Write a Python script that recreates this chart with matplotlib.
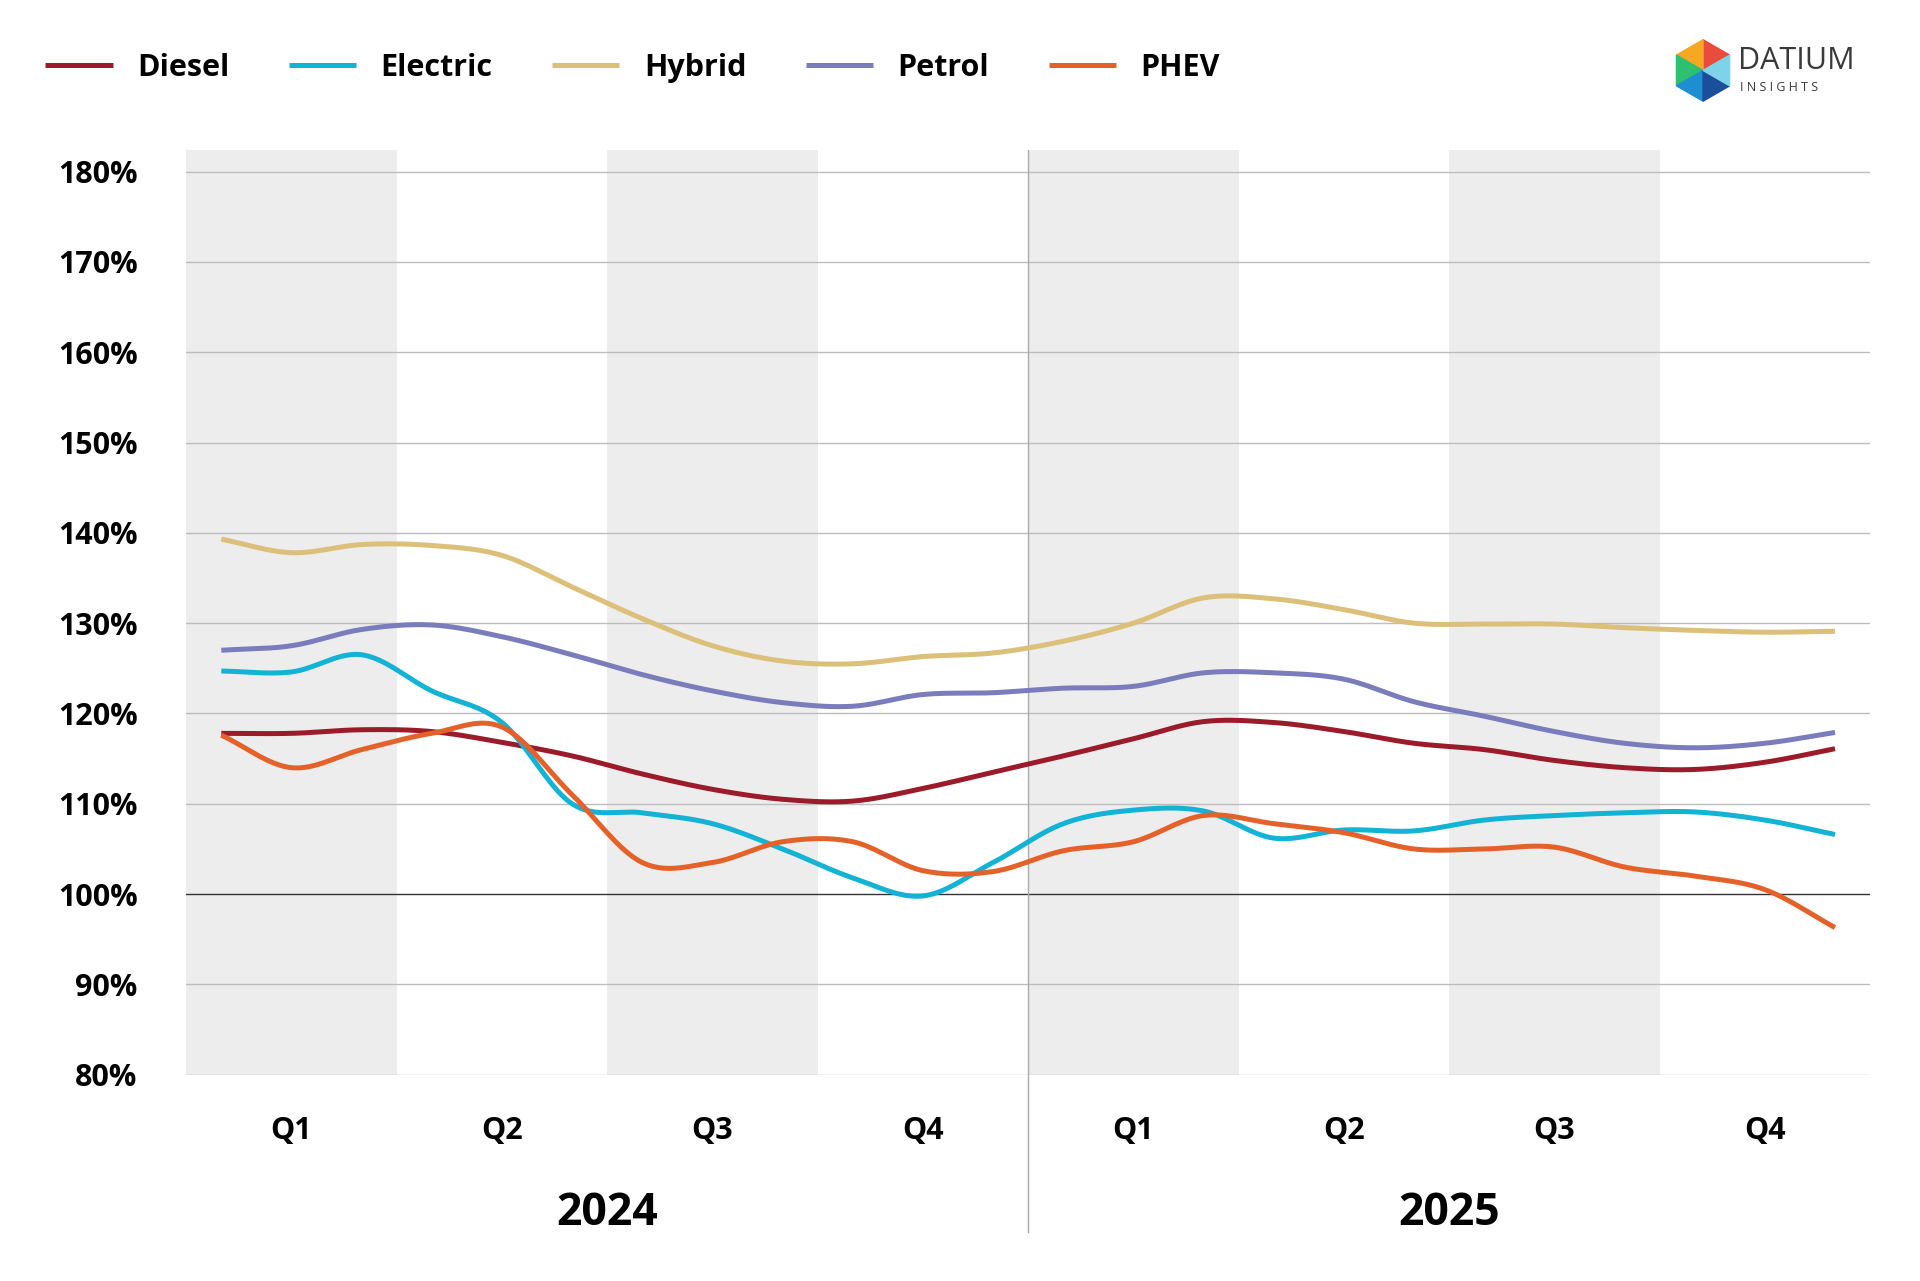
import numpy as np
import matplotlib.pyplot as plt
from matplotlib.patches import Polygon

plt.rcParams['font.family'] = ['Open Sans', 'DejaVu Sans']

# monthly values, Jan 2024 .. Dec 2025
months = np.arange(24)
series = {
    'Diesel': [117.8, 117.8, 118.2, 118.0, 116.8, 115.3, 113.3, 111.6, 110.5, 110.3, 111.7, 113.5,
               115.3, 117.2, 119.1, 119.0, 118.0, 116.7, 116.0, 114.8, 114.0, 113.8, 114.6, 116.1],
    'Electric': [124.7, 124.6, 126.5, 122.5, 119.0, 110.0, 109.0, 107.8, 105.0, 101.8, 99.8, 103.5,
                 107.8, 109.3, 109.2, 106.2, 107.1, 107.0, 108.2, 108.7, 109.0, 109.1, 108.2, 106.6],
    'Hybrid': [139.3, 137.8, 138.7, 138.6, 137.5, 134.0, 130.5, 127.5, 125.8, 125.5, 126.3, 126.7,
               128.0, 130.0, 132.8, 132.7, 131.5, 130.0, 129.9, 129.9, 129.5, 129.2, 129.0, 129.1],
    'Petrol': [127.0, 127.5, 129.3, 129.8, 128.5, 126.5, 124.3, 122.5, 121.2, 120.8, 122.1, 122.3,
               122.8, 123.0, 124.5, 124.5, 123.8, 121.3, 119.7, 118.0, 116.7, 116.2, 116.7, 117.9],
    'PHEV': [117.6, 114.0, 116.0, 117.8, 118.5, 111.0, 103.5, 103.5, 105.8, 105.8, 102.6, 102.5,
             104.8, 105.8, 108.7, 107.8, 106.8, 105.0, 105.0, 105.2, 103.0, 102.0, 100.5, 96.3],
}
colors = {'Diesel': '#9b1b2a', 'Electric': '#12b3d4', 'Hybrid': '#dcc07a',
          'Petrol': '#7a7cbc', 'PHEV': '#e4622a'}
quarters = ['Q1', 'Q2', 'Q3', 'Q4'] * 2
years = ['2024', '2025']
yticks = np.arange(80, 181, 10)


def smooth(x, y, n=20):
    # Catmull-Rom spline through the monthly points
    x = np.asarray(x, float)
    y = np.asarray(y, float)
    px = np.concatenate([[2 * x[0] - x[1]], x, [2 * x[-1] - x[-2]]])
    py = np.concatenate([[2 * y[0] - y[1]], y, [2 * y[-1] - y[-2]]])
    xs, ys = [], []
    t = np.linspace(0, 1, n, endpoint=False)
    for i in range(1, len(px) - 2):
        for p, out in ((px, xs), (py, ys)):
            p0, p1, p2, p3 = p[i - 1], p[i], p[i + 1], p[i + 2]
            out.append(0.5 * (2 * p1 + (-p0 + p2) * t + (2 * p0 - 5 * p1 + 4 * p2 - p3) * t ** 2
                              + (-p0 + 3 * p1 - 3 * p2 + p3) * t ** 3))
    xs.append([x[-1]])
    ys.append([y[-1]])
    return np.concatenate(xs), np.concatenate(ys)


fig = plt.figure(figsize=(19.2, 12.81), dpi=100)
ax = fig.add_axes([0.097, 0.161, 0.877, 0.722])
ax.set_xlim(-0.5, 23.5)
ax.set_ylim(80, 182.4)

for start in (-0.5, 5.5, 11.5, 17.5):
    ax.axvspan(start, start + 3, color='#ededed', lw=0, zorder=0)
for v in yticks:
    ax.axhline(v, color='#333333' if v == 100 else '#bdbdbd', lw=1, zorder=1)
ax.axvline(11.5, ymin=-0.17, ymax=1, color='#aaaaaa', lw=1, clip_on=False, zorder=1)

for name, vals in series.items():
    sx, sy = smooth(months, vals)
    ax.plot(sx, sy, color=colors[name], lw=3.6, label=name, zorder=3, solid_capstyle='butt')

ax.set_yticks(yticks)
ax.set_yticklabels([f'{v}%' for v in yticks], fontsize=22, fontweight='bold')
ax.set_xticks(np.arange(1, 24, 3))
ax.set_xticklabels(quarters, fontsize=22, fontweight='bold')
ax.tick_params(length=0, pad=30, axis='x')
ax.tick_params(length=0, pad=35, axis='y')
for s in ax.spines.values():
    s.set_visible(False)
for i, yr in enumerate(years):
    ax.text(5.5 + 12 * i, -0.15, yr, transform=ax.get_xaxis_transform(),
            ha='center', va='center', fontsize=32, fontweight='bold')

ax.legend(loc='upper left', bbox_to_anchor=(-0.1, 1.135), ncol=5, frameon=False,
          prop={'weight': 'bold', 'size': 22}, handlelength=2.2, columnspacing=1.95)

# logo
lx, ly = 0.887, 0.945
hexcols = ['#e94b3c', '#f7a823', '#2fbf71', '#1d8fd0', '#1b4f9c', '#7fd3e8']
r = 0.024
for k in range(6):
    a0, a1 = np.pi / 6 + k * np.pi / 3, np.pi / 6 + (k + 1) * np.pi / 3
    pts = [(lx, ly), (lx + r * np.cos(a0) / 1.5, ly + r * np.sin(a0)),
           (lx + r * np.cos(a1) / 1.5, ly + r * np.sin(a1))]
    fig.patches.append(Polygon(pts, closed=True, color=hexcols[k], transform=fig.transFigure))
fig.text(0.905, 0.952, 'DATIUM', fontsize=22, color='#3a3a3a', va='center')
fig.text(0.906, 0.932, 'I N S I G H T S', fontsize=9, color='#3a3a3a', va='center')

fig.savefig('out.png', dpi=100, facecolor='white')
